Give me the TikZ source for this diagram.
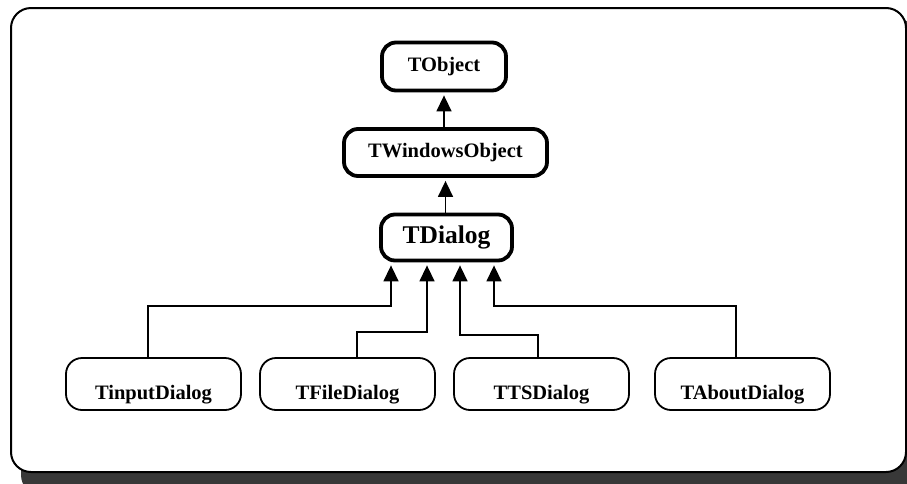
\documentclass[tikz,border=0pt]{standalone}
\usepackage{fontspec}
\setmainfont{Liberation Serif}
\usetikzlibrary{arrows.meta}
\begin{document}
\begin{tikzpicture}[x=1pt,y=-1pt,
  topbox/.style={draw, line width=3.8pt, rounded corners=14pt, inner sep=0pt,
    font=\bfseries\fontsize{20.5}{24}\selectfont},
  leafbox/.style={draw, line width=1.8pt, rounded corners=16pt, inner sep=0pt,
    minimum width=175pt, minimum height=52pt, text height=36pt, text depth=5pt,
    font=\bfseries\fontsize{20.5}{24}\selectfont},
  arr/.style={line width=1.5pt, -{Triangle[width=15pt,length=16pt]}, shorten >=3pt}]
\useasboundingbox (0,0) rectangle (907,483);
\clip (0,0) rectangle (907,483);
% frame with shadow
\fill[black!78, rounded corners=20pt] (21,18) rectangle (916,495);
\draw[line width=2pt, fill=white, rounded corners=20pt] (11,8) rectangle (906,472);
% class boxes
\node[topbox, minimum width=124pt, minimum height=48pt] (obj) at (444,66.5) {TObject};
\node[topbox, minimum width=203pt, minimum height=47pt] (win) at (445.5,152.5) {TWindowsObject};
\node[topbox, minimum width=131pt, minimum height=46pt,
  font=\bfseries\fontsize{25.5}{30}\selectfont] (dlg) at (446.5,237.5) {TDialog};
\node[leafbox] (tin) at (153.5,384) {TinputDialog};
\node[leafbox] (tfd) at (347.5,384) {TFileDialog};
\node[leafbox] (tts) at (541.5,384) {TTSDialog};
\node[leafbox] (tab) at (742.5,384) {TAboutDialog};
% connectors
\draw[arr] (win.north -| obj.south) -- (obj.south);
\draw[arr] (dlg.north -| win.south) -- (win.south);
\coordinate (b1) at (391,306);
\coordinate (b2) at (427,332);
\coordinate (b3) at (460,335);
\coordinate (b4) at (494,306);
\draw[arr] ([xshift=-5.5pt]tin.north) |- (b1) -- (b1 |- dlg.south);
\draw[arr] ([xshift=9.5pt]tfd.north) |- (b2) -- (b2 |- dlg.south);
\draw[arr] ([xshift=-3.5pt]tts.north) |- (b3) -- (b3 |- dlg.south);
\draw[arr] ([xshift=-6.5pt]tab.north) |- (b4) -- (b4 |- dlg.south);
\end{tikzpicture}
\end{document}
